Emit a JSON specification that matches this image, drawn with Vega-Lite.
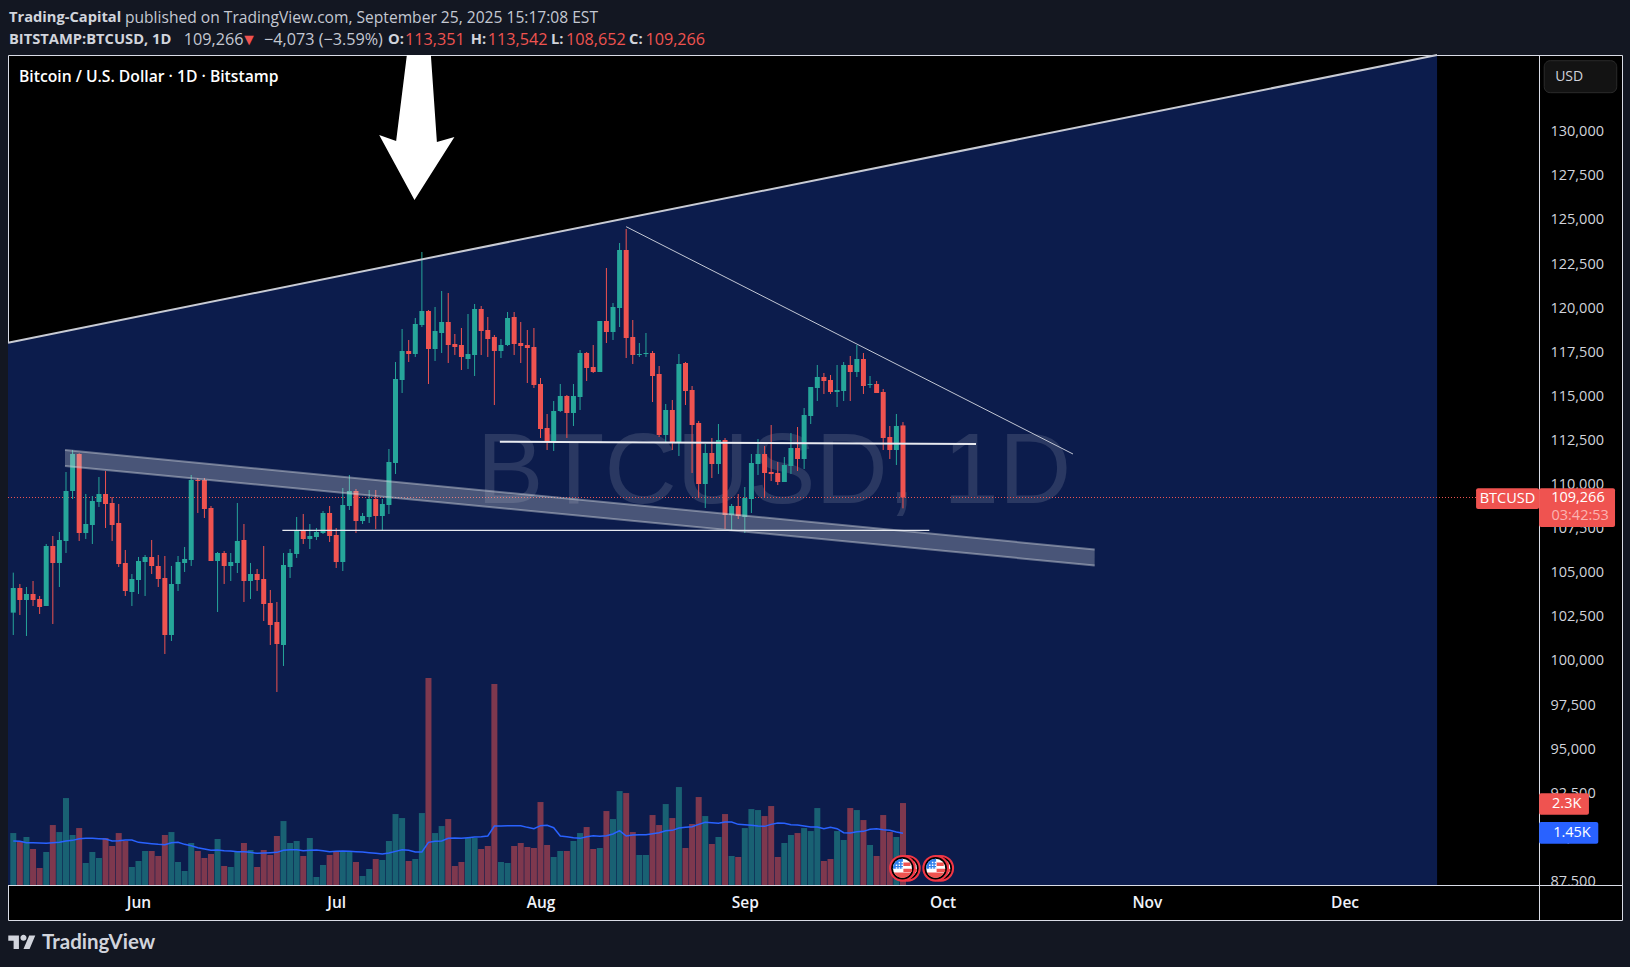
{"$schema":"https://vega.github.io/schema/vega-lite/v6.json","width":1614,"height":865,"autosize":"none","padding":{"left":8,"top":55,"right":8,"bottom":47},"background":"#131722",
"config":{"view":{"fill":"#000000","stroke":"#d9dce6","strokeWidth":1},"font":"Open Sans"},
"datasets":{"ohlcv":[
{"d":"2025-05-13","o":102740,"h":105007,"l":101474,"c":104138,"dir":"up","v":1455,"ma":1232},
{"d":"2025-05-14","o":104138,"h":104364,"l":102607,"c":103458,"dir":"down","v":1232,"ma":1222},
{"d":"2025-05-15","o":103458,"h":104194,"l":101417,"c":103798,"dir":"up","v":1344,"ma":1185},
{"d":"2025-05-16","o":103798,"h":104534,"l":103117,"c":103458,"dir":"down","v":1008,"ma":1185},
{"d":"2025-05-17","o":103514,"h":103684,"l":102664,"c":103061,"dir":"down","v":476,"ma":1176},
{"d":"2025-05-18","o":103117,"h":106632,"l":103117,"c":106518,"dir":"up","v":924,"ma":1166},
{"d":"2025-05-19","o":106518,"h":107085,"l":102097,"c":105555,"dir":"down","v":1679,"ma":1185},
{"d":"2025-05-20","o":105555,"h":107312,"l":104194,"c":106858,"dir":"up","v":1483,"ma":1194},
{"d":"2025-05-21","o":106802,"h":110712,"l":106121,"c":109636,"dir":"up","v":2435,"ma":1232},
{"d":"2025-05-22","o":109636,"h":111959,"l":109182,"c":111733,"dir":"up","v":1400,"ma":1250},
{"d":"2025-05-23","o":111733,"h":111770,"l":106802,"c":107255,"dir":"down","v":1595,"ma":1297},
{"d":"2025-05-24","o":107255,"h":109466,"l":106915,"c":107765,"dir":"up","v":616,"ma":1306},
{"d":"2025-05-25","o":107708,"h":109352,"l":106632,"c":109069,"dir":"up","v":924,"ma":1306},
{"d":"2025-05-26","o":109012,"h":110429,"l":108729,"c":109466,"dir":"up","v":756,"ma":1297},
{"d":"2025-05-27","o":109466,"h":110769,"l":107538,"c":108899,"dir":"down","v":1316,"ma":1288},
{"d":"2025-05-28","o":108955,"h":109295,"l":106802,"c":107708,"dir":"down","v":1092,"ma":1232},
{"d":"2025-05-29","o":107822,"h":108899,"l":105328,"c":105498,"dir":"down","v":1455,"ma":1241},
{"d":"2025-05-30","o":105555,"h":106292,"l":103684,"c":103968,"dir":"down","v":1232,"ma":1260},
{"d":"2025-05-31","o":103911,"h":104931,"l":103117,"c":104648,"dir":"up","v":504,"ma":1260},
{"d":"2025-06-01","o":104591,"h":105895,"l":103798,"c":105668,"dir":"up","v":672,"ma":1194},
{"d":"2025-06-02","o":105611,"h":106008,"l":103684,"c":105895,"dir":"up","v":952,"ma":1176},
{"d":"2025-06-03","o":105895,"h":106858,"l":104931,"c":105385,"dir":"down","v":952,"ma":1157},
{"d":"2025-06-04","o":105385,"h":106008,"l":104194,"c":104648,"dir":"down","v":812,"ma":1138},
{"d":"2025-06-05","o":104705,"h":105951,"l":100397,"c":101474,"dir":"down","v":1400,"ma":1129},
{"d":"2025-06-06","o":101474,"h":105385,"l":101134,"c":104364,"dir":"up","v":1483,"ma":1185},
{"d":"2025-06-07","o":104364,"h":105951,"l":103968,"c":105611,"dir":"up","v":644,"ma":1194},
{"d":"2025-06-08","o":105555,"h":106462,"l":105045,"c":105781,"dir":"up","v":392,"ma":1138},
{"d":"2025-06-09","o":105725,"h":110542,"l":105385,"c":110259,"dir":"up","v":1176,"ma":1101},
{"d":"2025-06-10","o":110259,"h":110372,"l":108389,"c":110202,"dir":"down","v":952,"ma":1045},
{"d":"2025-06-11","o":110259,"h":110372,"l":108105,"c":108615,"dir":"down","v":756,"ma":1008},
{"d":"2025-06-12","o":108672,"h":108785,"l":105668,"c":105668,"dir":"down","v":868,"ma":970},
{"d":"2025-06-13","o":105668,"h":106178,"l":102777,"c":106121,"dir":"up","v":1288,"ma":980},
{"d":"2025-06-14","o":106121,"h":106235,"l":104364,"c":105385,"dir":"down","v":532,"ma":961},
{"d":"2025-06-15","o":105385,"h":106121,"l":104534,"c":105611,"dir":"up","v":504,"ma":952},
{"d":"2025-06-16","o":105555,"h":108955,"l":104988,"c":106802,"dir":"up","v":952,"ma":933},
{"d":"2025-06-17","o":106858,"h":107765,"l":103344,"c":104534,"dir":"down","v":1176,"ma":933},
{"d":"2025-06-18","o":104534,"h":105555,"l":103514,"c":104931,"dir":"up","v":980,"ma":914},
{"d":"2025-06-19","o":104931,"h":105215,"l":103968,"c":104591,"dir":"down","v":504,"ma":886},
{"d":"2025-06-20","o":104648,"h":106518,"l":102267,"c":103231,"dir":"down","v":980,"ma":896},
{"d":"2025-06-21","o":103287,"h":104024,"l":100907,"c":102041,"dir":"down","v":840,"ma":905},
{"d":"2025-06-22","o":102211,"h":103344,"l":98243,"c":100964,"dir":"down","v":1372,"ma":914},
{"d":"2025-06-23","o":100907,"h":106121,"l":99717,"c":105441,"dir":"up","v":1791,"ma":970},
{"d":"2025-06-24","o":105328,"h":106348,"l":104705,"c":106121,"dir":"up","v":1176,"ma":989},
{"d":"2025-06-25","o":106065,"h":108162,"l":105838,"c":107425,"dir":"up","v":1232,"ma":989},
{"d":"2025-06-26","o":107368,"h":108332,"l":106632,"c":106915,"dir":"down","v":812,"ma":961},
{"d":"2025-06-27","o":106915,"h":107765,"l":106348,"c":107085,"dir":"up","v":1316,"ma":970},
{"d":"2025-06-28","o":107028,"h":107538,"l":106858,"c":107312,"dir":"up","v":224,"ma":980},
{"d":"2025-06-29","o":107255,"h":108502,"l":107198,"c":108389,"dir":"up","v":560,"ma":961},
{"d":"2025-06-30","o":108389,"h":108785,"l":106745,"c":107085,"dir":"down","v":840,"ma":933},
{"d":"2025-07-01","o":107142,"h":107538,"l":105271,"c":105611,"dir":"down","v":924,"ma":942},
{"d":"2025-07-02","o":105611,"h":109806,"l":105101,"c":108842,"dir":"up","v":952,"ma":952},
{"d":"2025-07-03","o":108785,"h":110542,"l":108559,"c":109636,"dir":"up","v":924,"ma":942},
{"d":"2025-07-04","o":109636,"h":109749,"l":107255,"c":107935,"dir":"down","v":644,"ma":933},
{"d":"2025-07-05","o":107935,"h":108389,"l":107765,"c":108219,"dir":"up","v":252,"ma":924},
{"d":"2025-07-06","o":108162,"h":109692,"l":107822,"c":109182,"dir":"up","v":448,"ma":905},
{"d":"2025-07-07","o":109182,"h":109692,"l":107482,"c":108219,"dir":"down","v":728,"ma":886},
{"d":"2025-07-08","o":108219,"h":109182,"l":107425,"c":108899,"dir":"up","v":700,"ma":868},
{"d":"2025-07-09","o":108842,"h":112016,"l":108332,"c":111279,"dir":"up","v":1232,"ma":896},
{"d":"2025-07-10","o":111223,"h":116947,"l":110599,"c":115984,"dir":"up","v":1987,"ma":942},
{"d":"2025-07-11","o":115927,"h":118818,"l":115190,"c":117571,"dir":"up","v":1875,"ma":989},
{"d":"2025-07-12","o":117571,"h":118194,"l":116947,"c":117401,"dir":"down","v":672,"ma":970},
{"d":"2025-07-13","o":117401,"h":119441,"l":117231,"c":119101,"dir":"up","v":728,"ma":924},
{"d":"2025-07-14","o":119044,"h":123182,"l":118931,"c":119838,"dir":"up","v":2015,"ma":924},
{"d":"2025-07-15","o":119838,"h":119894,"l":115700,"c":117684,"dir":"down","v":5794,"ma":1194},
{"d":"2025-07-16","o":117684,"h":120065,"l":117004,"c":118704,"dir":"up","v":1455,"ma":1222},
{"d":"2025-07-17","o":118591,"h":120971,"l":117457,"c":119214,"dir":"up","v":1651,"ma":1232},
{"d":"2025-07-18","o":119214,"h":120858,"l":116890,"c":117911,"dir":"down","v":1847,"ma":1306},
{"d":"2025-07-19","o":117967,"h":118534,"l":117344,"c":117797,"dir":"down","v":532,"ma":1316},
{"d":"2025-07-20","o":117910,"h":118874,"l":116493,"c":117230,"dir":"down","v":644,"ma":1306},
{"d":"2025-07-21","o":117117,"h":119667,"l":116550,"c":117400,"dir":"up","v":1316,"ma":1325},
{"d":"2025-07-22","o":117343,"h":120234,"l":116153,"c":119951,"dir":"up","v":1316,"ma":1344},
{"d":"2025-07-23","o":119951,"h":120121,"l":117343,"c":118704,"dir":"down","v":1008,"ma":1353},
{"d":"2025-07-24","o":118760,"h":119497,"l":117230,"c":118250,"dir":"down","v":1092,"ma":1372},
{"d":"2025-07-25","o":118364,"h":118477,"l":114509,"c":117570,"dir":"down","v":5626,"ma":1651},
{"d":"2025-07-26","o":117570,"h":118250,"l":117173,"c":117910,"dir":"up","v":644,"ma":1651},
{"d":"2025-07-27","o":117910,"h":119781,"l":117853,"c":119440,"dir":"up","v":616,"ma":1661},
{"d":"2025-07-28","o":119497,"h":119781,"l":117343,"c":117967,"dir":"down","v":1092,"ma":1661},
{"d":"2025-07-29","o":118023,"h":119214,"l":116890,"c":117853,"dir":"down","v":1176,"ma":1661},
{"d":"2025-07-30","o":117910,"h":118760,"l":115756,"c":117740,"dir":"down","v":1064,"ma":1614},
{"d":"2025-07-31","o":117797,"h":118874,"l":115473,"c":115643,"dir":"down","v":1036,"ma":1577},
{"d":"2025-08-01","o":115700,"h":116040,"l":112639,"c":113149,"dir":"down","v":2323,"ma":1661},
{"d":"2025-08-02","o":113206,"h":113999,"l":111959,"c":112412,"dir":"down","v":1120,"ma":1670},
{"d":"2025-08-03","o":112412,"h":114736,"l":111902,"c":114169,"dir":"up","v":784,"ma":1605},
{"d":"2025-08-04","o":114169,"h":115700,"l":114113,"c":115020,"dir":"up","v":952,"ma":1372},
{"d":"2025-08-05","o":115020,"h":115076,"l":112639,"c":114056,"dir":"down","v":952,"ma":1353},
{"d":"2025-08-06","o":114056,"h":115700,"l":113319,"c":115020,"dir":"up","v":1232,"ma":1325},
{"d":"2025-08-07","o":114963,"h":117627,"l":114226,"c":117457,"dir":"up","v":1455,"ma":1306},
{"d":"2025-08-08","o":117457,"h":117513,"l":115870,"c":116607,"dir":"down","v":1623,"ma":1353},
{"d":"2025-08-09","o":116663,"h":117910,"l":116323,"c":116380,"dir":"down","v":1008,"ma":1381},
{"d":"2025-08-10","o":116380,"h":119270,"l":116380,"c":119270,"dir":"up","v":1036,"ma":1362},
{"d":"2025-08-11","o":119270,"h":122274,"l":118023,"c":118647,"dir":"down","v":2071,"ma":1381},
{"d":"2025-08-12","o":118647,"h":120291,"l":118194,"c":120064,"dir":"up","v":1847,"ma":1427},
{"d":"2025-08-13","o":120007,"h":123691,"l":118930,"c":123295,"dir":"up","v":2631,"ma":1521},
{"d":"2025-08-14","o":123295,"h":124485,"l":117173,"c":118307,"dir":"down","v":2575,"ma":1372},
{"d":"2025-08-15","o":118364,"h":119327,"l":116833,"c":117343,"dir":"down","v":1483,"ma":1400},
{"d":"2025-08-16","o":117343,"h":118023,"l":117230,"c":117400,"dir":"up","v":840,"ma":1409},
{"d":"2025-08-17","o":117400,"h":118590,"l":117230,"c":117457,"dir":"up","v":840,"ma":1409},
{"d":"2025-08-18","o":117457,"h":117570,"l":114679,"c":116153,"dir":"down","v":1959,"ma":1437},
{"d":"2025-08-19","o":116266,"h":116720,"l":112696,"c":112809,"dir":"down","v":1679,"ma":1465},
{"d":"2025-08-20","o":112809,"h":114566,"l":112356,"c":114226,"dir":"up","v":2267,"ma":1521},
{"d":"2025-08-21","o":114226,"h":114793,"l":111959,"c":112412,"dir":"down","v":1875,"ma":1530},
{"d":"2025-08-22","o":112412,"h":117400,"l":111619,"c":116833,"dir":"up","v":2743,"ma":1595},
{"d":"2025-08-23","o":116890,"h":116947,"l":114509,"c":115303,"dir":"down","v":1036,"ma":1614},
{"d":"2025-08-24","o":115360,"h":115586,"l":110655,"c":113376,"dir":"down","v":1707,"ma":1633},
{"d":"2025-08-25","o":113489,"h":113603,"l":109238,"c":110032,"dir":"down","v":2463,"ma":1698},
{"d":"2025-08-26","o":110032,"h":112299,"l":108671,"c":111789,"dir":"up","v":1931,"ma":1754},
{"d":"2025-08-27","o":111789,"h":112639,"l":110372,"c":111165,"dir":"down","v":1148,"ma":1745},
{"d":"2025-08-28","o":111165,"h":113432,"l":110599,"c":112526,"dir":"up","v":1344,"ma":1726},
{"d":"2025-08-29","o":112526,"h":112639,"l":107481,"c":108275,"dir":"down","v":1987,"ma":1763},
{"d":"2025-08-30","o":108275,"h":108898,"l":107425,"c":108785,"dir":"up","v":812,"ma":1763},
{"d":"2025-08-31","o":108785,"h":109465,"l":108048,"c":108218,"dir":"down","v":784,"ma":1698},
{"d":"2025-09-01","o":108161,"h":109862,"l":107254,"c":109238,"dir":"up","v":1595,"ma":1689},
{"d":"2025-09-02","o":109182,"h":111732,"l":108388,"c":111222,"dir":"up","v":2127,"ma":1670},
{"d":"2025-09-03","o":111165,"h":112582,"l":110542,"c":111732,"dir":"up","v":2099,"ma":1651},
{"d":"2025-09-04","o":111732,"h":112186,"l":109295,"c":110655,"dir":"down","v":1931,"ma":1642},
{"d":"2025-09-05","o":110712,"h":113376,"l":110202,"c":110599,"dir":"down","v":2211,"ma":1698},
{"d":"2025-09-06","o":110655,"h":111279,"l":109975,"c":110145,"dir":"down","v":784,"ma":1735},
{"d":"2025-09-07","o":110145,"h":111562,"l":110145,"c":111109,"dir":"up","v":1176,"ma":1726},
{"d":"2025-09-08","o":111052,"h":112922,"l":110599,"c":112072,"dir":"up","v":1400,"ma":1689},
{"d":"2025-09-09","o":112072,"h":113262,"l":110769,"c":111449,"dir":"down","v":1455,"ma":1679},
{"d":"2025-09-10","o":111449,"h":114339,"l":110882,"c":113943,"dir":"up","v":1595,"ma":1651},
{"d":"2025-09-11","o":113886,"h":115530,"l":113432,"c":115530,"dir":"up","v":1511,"ma":1623},
{"d":"2025-09-12","o":115473,"h":116777,"l":114736,"c":116096,"dir":"up","v":2155,"ma":1623},
{"d":"2025-09-13","o":116096,"h":116323,"l":115133,"c":115870,"dir":"down","v":672,"ma":1577},
{"d":"2025-09-14","o":115926,"h":116210,"l":115133,"c":115246,"dir":"down","v":728,"ma":1614},
{"d":"2025-09-15","o":115246,"h":116777,"l":114396,"c":115360,"dir":"up","v":1511,"ma":1577},
{"d":"2025-09-16","o":115303,"h":116947,"l":114736,"c":116777,"dir":"up","v":1260,"ma":1465},
{"d":"2025-09-17","o":116777,"h":117287,"l":114736,"c":116380,"dir":"down","v":2155,"ma":1455},
{"d":"2025-09-18","o":116380,"h":117910,"l":116096,"c":117117,"dir":"up","v":2099,"ma":1493},
{"d":"2025-09-19","o":117117,"h":117457,"l":115133,"c":115586,"dir":"down","v":1819,"ma":1502},
{"d":"2025-09-20","o":115643,"h":116153,"l":115473,"c":115700,"dir":"up","v":1120,"ma":1558},
{"d":"2025-09-21","o":115700,"h":115870,"l":115190,"c":115190,"dir":"down","v":812,"ma":1577},
{"d":"2025-09-22","o":115246,"h":115416,"l":111959,"c":112639,"dir":"down","v":1959,"ma":1549},
{"d":"2025-09-23","o":112696,"h":113319,"l":111449,"c":111959,"dir":"down","v":1483,"ma":1530},
{"d":"2025-09-24","o":111959,"h":113999,"l":111109,"c":113319,"dir":"up","v":1344,"ma":1483},
{"d":"2025-09-25","o":113351,"h":113542,"l":108652,"c":109266,"dir":"down","v":2295,"ma":1450}
],
"flagsBack":[{"d":"2025-09-25T16:00:00Z","v":468},{"d":"2025-09-30T17:30:00Z","v":468}],
"flagsFront":[{"d":"2025-09-24T22:00:00Z","v":468},{"d":"2025-09-29T23:00:00Z","v":468}]},
"encoding":{"x":{"field":"d","type":"temporal","title":null,"scale":{"type":"utc","padding":0,"domain":[1747025280000,1768184640000]},"axis":{"orient":"bottom","offset":-35,"values":[1748736000000,1751328000000,1754006400000,1756684800000,1759276800000,1761955200000,1764547200000],"format":"%b","title":null,"ticks":false,"grid":false,"domainColor":"#d9dce6","domainWidth":1,"labelColor":"#f0f3fa","labelFont":"Open Sans","labelFontSize":15.5,"labelFontWeight":600,"labelPadding":10,"labelOverlap":false,"labelFlush":false,"labelBound":false}}},
"layer":[
{"encoding":{"y":{"field":"p","type":"quantitative","title":null,"scale":{"domain":[85319,134347]},"axis":{"orient":"right","offset":-83,"values":[87500,90000,92500,95000,97500,100000,102500,105000,107500,110000,112500,115000,117500,120000,122500,125000,127500,130000],"format":",.0f","title":null,"ticks":false,"grid":false,"domainColor":"#d9dce6","domainWidth":1,"labelColor":"#d1d4dc","labelFont":"Open Sans","labelFontSize":14.5,"labelPadding":11,"labelOverlap":false,"labelFlush":false,"labelBound":false}}},
"layer":[
{"data":{"values":[{"d":"2025-12-30T16:00:00Z","d2":"2026-01-11T23:00:00Z","p":87247,"p2":85377}]},"mark":{"type":"rect","fill":"#000000"},"encoding":{"x2":{"field":"d2"},"y2":{"field":"p2"}}},
{"data":{"values":[{"d":"2025-05-12T04:48:00Z","p":118041},{"d":"2025-12-15T01:00:00Z","p":134347}]},"mark":{"type":"area","fill":"#0c1c4c","opacity":1},"encoding":{"y2":{"datum":87303}}},
{"data":{"values":[{"d":"2025-09-05T10:00:00Z","p":108955,"t":"BTCUSD, 1D"}]},"mark":{"type":"text","font":"Liberation Sans","fontSize":100,"align":"center","baseline":"alphabetic","color":"#ffffff","opacity":0.12},"encoding":{"text":{"field":"t"}}},
{"data":{"values":[{"d":"2025-05-12T04:48:00Z","p":109266},{"d":"2025-12-20T23:00:00Z","p":109266}]},"mark":{"type":"line","color":"#ef5350","strokeWidth":1,"strokeDash":[1,2]}},
{"data":{"name":"ohlcv"},"mark":{"type":"rule","strokeWidth":1},"encoding":{"y":{"field":"l","type":"quantitative","title":null,"scale":{"domain":[85319,134347]},"axis":{"orient":"right","offset":-83,"values":[87500,90000,92500,95000,97500,100000,102500,105000,107500,110000,112500,115000,117500,120000,122500,125000,127500,130000],"format":",.0f","title":null,"ticks":false,"grid":false,"domainColor":"#d9dce6","domainWidth":1,"labelColor":"#d1d4dc","labelFont":"Open Sans","labelFontSize":14.5,"labelPadding":11,"labelOverlap":false,"labelFlush":false,"labelBound":false}},"y2":{"field":"h"},"color":{"field":"dir","type":"nominal","scale":{"domain":["up","down"],"range":["#26a69a","#ef5350"]},"legend":null}}},
{"data":{"name":"ohlcv"},"mark":{"type":"bar","width":5},"encoding":{"y":{"field":"o","type":"quantitative","title":null,"scale":{"domain":[85319,134347]},"axis":{"orient":"right","offset":-83,"values":[87500,90000,92500,95000,97500,100000,102500,105000,107500,110000,112500,115000,117500,120000,122500,125000,127500,130000],"format":",.0f","title":null,"ticks":false,"grid":false,"domainColor":"#d9dce6","domainWidth":1,"labelColor":"#d1d4dc","labelFont":"Open Sans","labelFontSize":14.5,"labelPadding":11,"labelOverlap":false,"labelFlush":false,"labelBound":false}},"y2":{"field":"c"},"color":{"field":"dir","type":"nominal","scale":{"domain":["up","down"],"range":["#26a69a","#ef5350"]},"legend":null}}},
{"data":{"values":[{"d":"2025-05-20T20:24:00Z","p":111959,"p2":111052},{"d":"2025-10-24T02:00:00Z","p":106319,"p2":105412}]},"mark":{"type":"area","color":"#d1d4dc","opacity":0.31},"encoding":{"y2":{"field":"p2"}}},
{"data":{"values":[{"d":"2025-05-20T20:24:00Z","p":111959,"s":"a"},{"d":"2025-10-24T02:00:00Z","p":106319,"s":"a"},{"d":"2025-05-20T20:24:00Z","p":111052,"s":"b"},{"d":"2025-10-24T02:00:00Z","p":105412,"s":"b"}]},"mark":{"type":"line","color":"#d1d4dc","opacity":0.45,"strokeWidth":2},"encoding":{"detail":{"field":"s"}}},
{"data":{"values":[{"d":"2025-05-12T04:48:00Z","p":118041},{"d":"2025-12-15T01:00:00Z","p":134347}]},"mark":{"type":"line","color":"#c8cbd4","strokeWidth":2}},
{"data":{"values":[{"d":"2025-08-14T00:00:00Z","p":124615},{"d":"2025-10-20T19:00:00Z","p":111732}]},"mark":{"type":"line","color":"#c3c7d4","strokeWidth":1}},
{"data":{"values":[{"d":"2025-07-25T20:00:00Z","p":112429},{"d":"2025-10-06T02:00:00Z","p":112299}]},"mark":{"type":"line","color":"#e8eaf0","strokeWidth":2}},
{"data":{"values":[{"d":"2025-06-22T20:00:00Z","p":107407},{"d":"2025-09-29T00:00:00Z","p":107407}]},"mark":{"type":"line","color":"#e8eaf0","strokeWidth":1.3}},
{"data":{"values":[{"d":"2025-07-13T05:00:00Z","p":130238}]},"mark":{"type":"point","shape":"M-.135 -1L.196 -1L.279 .2L.521 .131L-.03 1L-.517 .103L-.283 .186Z","size":21025,"filled":true,"color":"#ffffff","opacity":1,"strokeWidth":0}},
{"data":{"values":[{"d":"2025-12-31T07:12:00Z","d2":"2026-01-11T07:12:00Z","p":134024,"p2":132211}]},"mark":{"type":"rect","fill":"#131313","stroke":"#2b2b2b","cornerRadius":6},"encoding":{"x2":{"field":"d2"},"y2":{"field":"p2"}}},
{"data":{"values":[{"d":"2026-01-01T23:00:00Z","p":133117,"t":"USD"}]},"mark":{"type":"text","align":"left","baseline":"middle","fontSize":14,"color":"#d1d4dc"},"encoding":{"text":{"field":"t"}}},
{"data":{"values":[{"d":"2025-05-13T20:53:00Z","p":133100,"t":"Bitcoin / U.S. Dollar · 1D · Bitstamp"}]},"mark":{"type":"text","align":"left","baseline":"middle","fontSize":15.7,"fontWeight":600,"color":"#ffffff"},"encoding":{"text":{"field":"t"}}},
{"data":{"values":[{"d":"2025-12-20T23:00:00Z","d2":"2025-12-30T12:30:00Z","p":109788,"p2":108615},{"d":"2025-12-30T12:30:00Z","d2":"2026-01-11T01:00:00Z","p":109788,"p2":107594},{"d":"2025-12-30T12:30:00Z","d2":"2026-01-07T02:00:00Z","p":92502,"p2":91288}]},"mark":{"type":"rect","fill":"#ef5350","cornerRadius":2},"encoding":{"x2":{"field":"d2"},"y2":{"field":"p2"}}},
{"data":{"values":[{"d":"2025-12-30T12:30:00Z","d2":"2026-01-08T12:00:00Z","p":90875,"p2":89644}]},"mark":{"type":"rect","fill":"#2962ff","cornerRadius":2},"encoding":{"x2":{"field":"d2"},"y2":{"field":"p2"}}},
{"data":{"values":[{"d":"2025-12-25T17:30:00Z","p":109199,"t":"BTCUSD"},{"d":"2026-01-05T10:00:00Z","p":109221,"t":"109,266"},{"d":"2026-01-03T17:00:00Z","p":91877,"t":"2.3K"},{"d":"2026-01-04T12:00:00Z","p":90268,"t":"1.45K"}]},"mark":{"type":"text","align":"center","baseline":"middle","fontSize":14.5,"color":"#ffffff"},"encoding":{"text":{"field":"t"}}},
{"data":{"values":[{"d":"2026-01-05T18:00:00Z","p":108218,"t":"03:42:53"}]},"mark":{"type":"text","align":"center","baseline":"middle","fontSize":14.5,"color":"#fbb4b2"},"encoding":{"text":{"field":"t"}}},
{"data":{"values":[{"d":"2025-05-12T08:24:00Z","p":136460,"t":"Trading-Capital"},{"d":"2025-05-12T08:24:00Z","p":135190,"t":"BITSTAMP:BTCUSD, 1D"},{"d":"2025-07-08T20:38:00Z","p":135190,"t":"O:"},{"d":"2025-07-21T10:19:00Z","p":135190,"t":"H:"},{"d":"2025-08-02T14:24:00Z","p":135190,"t":"L:"},{"d":"2025-08-14T10:19:00Z","p":135190,"t":"C:"}]},"mark":{"type":"text","align":"left","baseline":"middle","fontSize":14.7,"fontWeight":700,"color":"#d1d4dc"},"encoding":{"text":{"field":"t"}}},
{"data":{"values":[{"d":"2025-05-29T22:48:00Z","p":136460,"t":"published on TradingView.com, September 25, 2025 15:17:08 EST"}]},"mark":{"type":"text","align":"left","baseline":"middle","fontSize":15.6,"color":"#c4c8d2"},"encoding":{"text":{"field":"t"}}},
{"data":{"values":[{"d":"2025-06-07T20:38:00Z","p":135190,"t":"109,266"},{"d":"2025-06-20T01:00:00Z","p":135190,"t":"−4,073 (−3.59%)"}]},"mark":{"type":"text","align":"left","baseline":"middle","fontSize":16.2,"color":"#c4c8d2"},"encoding":{"text":{"field":"t"}}},
{"data":{"values":[{"d":"2025-06-16T13:12:00Z","p":135190,"t":"▼"},{"d":"2025-07-11T10:30:00Z","p":135190,"t":"113,351"},{"d":"2025-07-24T00:00:00Z","p":135190,"t":"113,542"},{"d":"2025-08-04T20:53:00Z","p":135190,"t":"108,652"},{"d":"2025-08-16T22:00:00Z","p":135190,"t":"109,266"}]},"mark":{"type":"text","align":"left","baseline":"middle","fontSize":16.2,"color":"#ef5350"},"encoding":{"text":{"field":"t"}}},
{"data":{"values":[{"d":"2025-05-14T07:40:00Z","p":84015}]},"mark":{"type":"point","shape":"M-.222 .444H-.611V-.167H-1V-.556H-.222Z M.556 .444H.111L.528 -.556H.972Z M-.111 -.389A.222 .222 0 1 0 .333 -.389A.222 .222 0 1 0 -.111 -.389Z","size":750,"filled":true,"color":"#d1d4dc","opacity":1,"strokeWidth":0}},
{"data":{"values":[{"d":"2025-05-17T08:38:00Z","p":84015,"t":"TradingView"}]},"mark":{"type":"text","align":"left","baseline":"middle","font":"Lato","fontSize":20.5,"fontWeight":700,"color":"#d1d4dc"},"encoding":{"text":{"field":"t"}}}
]},
{"encoding":{"y":{"field":"v","type":"quantitative","title":null,"stack":null,"scale":{"domain":[-980,23240]},"axis":null}},
"layer":[
{"data":{"name":"ohlcv"},"mark":{"type":"bar","width":6,"opacity":0.5},"encoding":{"color":{"field":"dir","type":"nominal","scale":{"domain":["up","down"],"range":["#26a69a","#ef5350"]},"legend":null}}},
{"data":{"name":"ohlcv"},"mark":{"type":"line","color":"#2962ff","strokeWidth":1.5},"encoding":{"y":{"field":"ma","type":"quantitative","scale":{"domain":[-980,23240]},"axis":null}}},
{"data":{"name":"flagsBack"},"mark":{"type":"point","shape":"circle","size":713,"filled":true,"color":"#f23645","opacity":1,"strokeWidth":0}},
{"data":{"name":"flagsBack"},"mark":{"type":"point","shape":"circle","size":506,"filled":true,"color":"#000000","opacity":1,"strokeWidth":0}},
{"data":{"name":"flagsBack"},"mark":{"type":"point","shape":"circle","size":361,"filled":true,"color":"#ffffff","opacity":1,"strokeWidth":0}},
{"data":{"name":"flagsBack"},"mark":{"type":"point","shape":"M.1 -.62H.85V-.25H.1Z M.1 .05H1V.38H.1Z M-.9 .45A1 1 0 0 0 .9 .45Z","size":361,"filled":true,"color":"#ef5350","opacity":1,"strokeWidth":0}},
{"data":{"name":"flagsFront"},"mark":{"type":"point","shape":"circle","size":713,"filled":true,"color":"#f23645","opacity":1,"strokeWidth":0}},
{"data":{"name":"flagsFront"},"mark":{"type":"point","shape":"circle","size":506,"filled":true,"color":"#000000","opacity":1,"strokeWidth":0}},
{"data":{"name":"flagsFront"},"mark":{"type":"point","shape":"circle","size":361,"filled":true,"color":"#ffffff","opacity":1,"strokeWidth":0}},
{"data":{"name":"flagsFront"},"mark":{"type":"point","shape":"M.1 -.62H.85V-.25H.1Z M.1 .05H1V.38H.1Z M-.9 .45A1 1 0 0 0 .9 .45Z","size":361,"filled":true,"color":"#ef5350","opacity":1,"strokeWidth":0}},
{"data":{"name":"flagsFront"},"mark":{"type":"point","shape":"M.05 .05H-1A1 1 0 0 1 .05 -1Z","size":361,"filled":true,"color":"#2f80ed","opacity":1,"strokeWidth":0}},
{"data":{"name":"flagsFront"},"mark":{"type":"point","shape":"M-.7 -.4h.16v.16h-.16Z M-.4 -.4h.16v.16h-.16Z M-.1 -.4h.16v.16h-.16Z M-.4 -.7h.16v.16h-.16Z M-.1 -.7h.16v.16h-.16Z M-.7 -.12h.16v.16h-.16Z M-.4 -.12h.16v.16h-.16Z M-.1 -.12h.16v.16h-.16Z","size":361,"filled":true,"color":"#ffffff","opacity":1,"strokeWidth":0}}
]}
],
"resolve":{"scale":{"y":"independent"}}}
